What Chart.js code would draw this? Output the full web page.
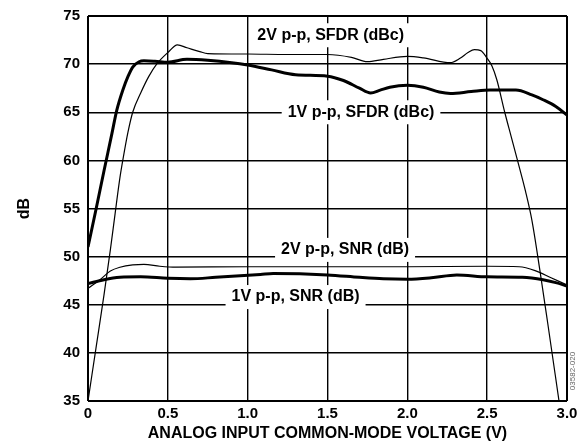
<!DOCTYPE html>
<html>
<head>
<meta charset="utf-8">
<script src="https://cdn.jsdelivr.net/npm/chart.js@4/dist/chart.umd.min.js"></script>
<style>
  html, body { margin: 0; padding: 0; background: #fff; }
  #wrap { width: 578px; height: 444px; position: relative; }
</style>
</head>
<body>
<div id="wrap"><canvas id="chart"></canvas></div>
<script>
// analog input common-mode voltage (V) vs dB
const sfdr2vX = [0, 0.05, 0.1, 0.14, 0.17, 0.2, 0.22, 0.25, 0.28, 0.33, 0.38, 0.43, 0.5, 0.56, 0.62, 0.7, 0.75, 1.0, 1.25, 1.5, 1.65, 1.75, 1.85, 2.0, 2.1, 2.27, 2.33, 2.38, 2.42, 2.46, 2.5, 2.53, 2.56, 2.61, 2.65, 2.69, 2.74, 2.78, 2.83, 2.88, 2.95];
const sfdr2vY = [35, 40.5, 46.0, 50.7, 54.5, 58.2, 60.2, 62.9, 65.0, 67.0, 68.7, 70.0, 71.2, 72.0, 71.7, 71.3, 71.1, 71.05, 71.0, 71.0, 70.7, 70.25, 70.5, 70.8, 70.65, 70.15, 70.6, 71.2, 71.5, 71.4, 70.6, 69.8, 68.4, 65.0, 62.5, 60.0, 56.8, 53.8, 48.6, 43.0, 35];

const sfdr1vX = [0, 0.05, 0.1, 0.15, 0.18, 0.22, 0.25, 0.28, 0.32, 0.35, 0.42, 0.5, 0.62, 0.75, 0.9, 1.0, 1.15, 1.3, 1.5, 1.6, 1.7, 1.77, 1.83, 1.89, 2.0, 2.1, 2.2, 2.27, 2.4, 2.52, 2.68, 2.78, 2.85, 2.93, 3.0];
const sfdr1vY = [51.0, 54.9, 58.9, 62.8, 65.2, 67.4, 68.7, 69.7, 70.25, 70.35, 70.3, 70.2, 70.5, 70.4, 70.15, 69.9, 69.4, 68.9, 68.75, 68.3, 67.5, 67.0, 67.3, 67.6, 67.8, 67.6, 67.1, 66.95, 67.15, 67.3, 67.3, 66.8, 66.3, 65.6, 64.7];

const snr2vX = [0, 0.075, 0.14, 0.2, 0.28, 0.35, 0.45, 0.55, 1.0, 1.5, 2.0, 2.5, 2.7, 2.8, 2.9, 3.0];
const snr2vY = [46.7, 47.6, 48.5, 48.9, 49.15, 49.2, 49.0, 48.9, 48.95, 48.95, 48.95, 49.0, 48.95, 48.55, 47.8, 47.05];

const snr1vX = [0, 0.1, 0.2, 0.33, 0.5, 0.64, 0.8, 1.08, 1.16, 1.5, 1.7, 1.85, 2.0, 2.15, 2.31, 2.5, 2.72, 2.85, 2.93, 3.0];
const snr1vY = [47.2, 47.6, 47.85, 47.9, 47.75, 47.7, 47.85, 48.15, 48.25, 48.1, 47.85, 47.7, 47.65, 47.8, 48.1, 47.9, 47.85, 47.6, 47.3, 46.95];

// curve labels: text and where they sit (data units)
const labelText = ['2V p-p, SFDR (dBc)', '1V p-p, SFDR (dBc)', '2V p-p, SNR (dB)', '1V p-p, SNR (dB)'];
const labelX = [1.52, 1.71, 1.61, 1.30];
const labelY = [73.0, 65.0, 50.7, 45.8];

const xTitle = 'ANALOG INPUT COMMON-MODE VOLTAGE (V)';
const yTitle = 'dB';
const figureId = '03582-020';

const FONT = '"Liberation Sans", Arial, Helvetica, sans-serif';

function pts(xs, ys) {
    return xs.map((x, i) => ({ x: x, y: ys[i] }));
}

const curveLabels = {
    id: 'curveLabels',
    beforeDatasetsDraw(chart) {
        const { ctx, scales: { x, y } } = chart;
        ctx.save();
        ctx.font = 'bold 16px ' + FONT;
        ctx.textAlign = 'center';
        ctx.textBaseline = 'middle';
        labelText.forEach((t, i) => {
            const px = x.getPixelForValue(labelX[i]);
            const py = y.getPixelForValue(labelY[i]);
            const w = ctx.measureText(t).width + 12;
            ctx.fillStyle = '#fff';
            ctx.fillRect(px - w / 2, py - 12, w, 24);
            ctx.fillStyle = '#000';
            ctx.fillText(t, px, py);
        });
        ctx.restore();
    },
    afterDraw(chart) {
        const { ctx, chartArea } = chart;
        ctx.save();
        ctx.font = '8px ' + FONT;
        ctx.fillStyle = '#666';
        ctx.translate(chartArea.right + 6, chartArea.bottom - 30);
        ctx.rotate(-Math.PI / 2);
        ctx.textAlign = 'center';
        ctx.textBaseline = 'middle';
        ctx.fillText(figureId, 0, 0);
        ctx.restore();
    }
};

const edgeWidth = (ctx) => (ctx.index === 0 || ctx.index === ctx.scale.ticks.length - 1) ? 2 : 1.4;

new Chart(document.getElementById('chart'), {
    type: 'line',
    data: {
        datasets: [
            { data: pts(sfdr2vX, sfdr2vY), borderWidth: 1.2 },
            { data: pts(snr2vX, snr2vY), borderWidth: 1.2 },
            { data: pts(sfdr1vX, sfdr1vY), borderWidth: 3 },
            { data: pts(snr1vX, snr1vY), borderWidth: 3 }
        ]
    },
    options: {
        responsive: true,
        maintainAspectRatio: false,
        animation: false,
        parsing: false,
        layout: { padding: { top: 16, right: 11, left: 0, bottom: 0 } },
        elements: {
            point: { radius: 0 },
            line: { borderColor: '#000', cubicInterpolationMode: 'monotone', fill: false }
        },
        plugins: {
            legend: { display: false },
            tooltip: { enabled: false }
        },
        scales: {
            x: {
                type: 'linear',
                min: 0,
                max: 3,
                afterFit: (scale) => {
                    scale.height = 43;
                    scale.paddingLeft = 0;
                    scale.paddingRight = 0;
                },
                border: { display: false },
                grid: { color: '#000', lineWidth: edgeWidth, drawTicks: false },
                ticks: {
                    stepSize: 0.5,
                    padding: 4,
                    color: '#000',
                    font: { family: FONT, size: 15, weight: 'bold' },
                    callback: (v) => v === 0 ? '0' : v.toFixed(1)
                },
                title: {
                    display: true,
                    text: xTitle,
                    color: '#000',
                    font: { family: FONT, size: 16, weight: 'bold' },
                    padding: { top: 0, bottom: 1 }
                }
            },
            y: {
                min: 35,
                max: 75,
                afterFit: (scale) => {
                    scale.width = 88;
                    scale.paddingTop = 0;
                    scale.paddingBottom = 0;
                },
                border: { display: false },
                grid: { color: '#000', lineWidth: edgeWidth, drawTicks: false },
                ticks: {
                    stepSize: 5,
                    padding: 8,
                    color: '#000',
                    font: { family: FONT, size: 15, weight: 'bold' }
                },
                title: {
                    display: true,
                    text: yTitle,
                    color: '#000',
                    font: { family: FONT, size: 16, weight: 'bold' },
                    padding: { top: 15, bottom: 0 }
                }
            }
        }
    },
    plugins: [curveLabels]
});
</script>
</body>
</html>
